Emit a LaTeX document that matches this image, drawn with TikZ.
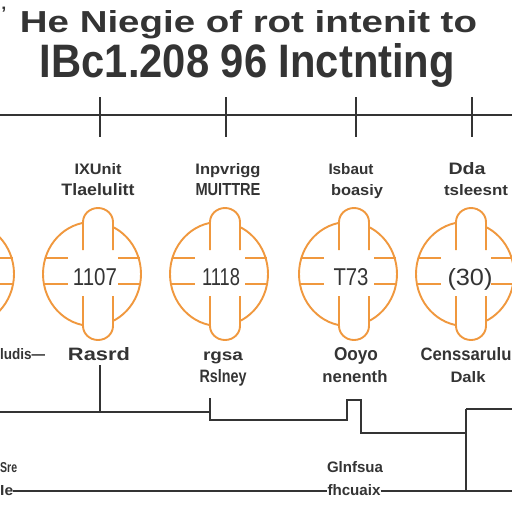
\documentclass[tikz,border=0pt]{standalone}
\usepackage{fontspec}
\setmainfont{Liberation Sans}
\usepackage{graphicx}
\definecolor{orng}{RGB}{240,152,62}
\definecolor{ink}{RGB}{52,52,52}
\newcommand\fitbox[3]{\resizebox{#1pt}{#2pt}{\vphantom{A}#3}}
\newcommand\orb[2]{%
  \begin{scope}[shift={(#1,#2)}]
    \draw[orbline] (0,0) ellipse [x radius=49pt, y radius=52pt];
    \fill[white] (-9,-52) arc[start angle=180,end angle=0,x radius=15pt,y radius=14pt]
      -- (21,52) arc[start angle=0,end angle=-180,x radius=15pt,y radius=14pt] -- cycle;
    \draw[orbline] (-9,-24) -- (-9,-52) arc[start angle=180,end angle=0,x radius=15pt,y radius=14pt] -- (21,-24);
    \draw[orbline] (-9,22) -- (-9,52) arc[start angle=180,end angle=360,x radius=15pt,y radius=14pt] -- (21,22);
    \draw[orbline] (-47.5,-16) -- (-24,-16) (-48.5,10) -- (-24,10);
    \draw[orbline] (26,-16) -- (47.5,-16) (26,10) -- (48.5,10);
  \end{scope}}
\begin{document}
\begin{tikzpicture}[x=1pt,y=-1pt,
  wire/.style={draw=ink, line width=1.6pt},
  orbline/.style={draw=orng, line width=1.9pt},
  lbl/.style={text=ink, inner sep=0pt, anchor=base, font=\bfseries},
  num/.style={text=ink, inner sep=0pt, anchor=base}]
\useasboundingbox[fill=white] (0,0) rectangle (512,512);

% title
\node[lbl] (apos) at (4,19) {\fontsize{18}{18}\selectfont '};
\node[lbl] (t1) at (248.5,32) {\fitbox{457}{22}{He Niegie of rot intenit to}};
\node[lbl] (t2) at (247.5,77) {\fitbox{415}{34}{IBc1.208 96 Inctnting}};

% top line with ticks
\coordinate (tl0) at (0,115);
\coordinate (tl1) at (512,115);
\draw[wire] (tl0) -- (tl1);
\foreach \x in {100,226,356,472} \draw[wire] (\x,97) -- (\x,137);

% orbs
\orb{-35}{274}
\orb{92}{274}
\orb{219}{274}
\orb{348}{274}
\orb{465}{274}

\node[num] (n1) at (95,285) {\fitbox{44}{17}{1107}};
\node[num] (n2) at (221,285) {\fitbox{38}{17}{1118}};
\node[num] (n3) at (351,285) {\fitbox{35}{17}{T73}};
\node[num] (n4) at (470,285) {\fitbox{45}{17}{(30)}};

% top labels
\node[lbl] (a1) at (98,174) {\fitbox{47}{11}{IXUnit}};
\node[lbl] (a2) at (98,195) {\fitbox{73}{12}{Tlaelulitt}};
\node[lbl] (b1) at (228,174) {\fitbox{65}{11}{Inpvrigg}};
\node[lbl] (b2) at (228,195) {\fitbox{65}{12}{MUITTRE}};
\node[lbl] (c1) at (351,174) {\fitbox{45}{11}{Isbaut}};
\node[lbl] (c2) at (357,195) {\fitbox{52}{11}{boasiy}};
\node[lbl] (d1) at (467,174) {\fitbox{37}{12}{Dda}};
\node[lbl] (d2) at (476,195) {\fitbox{64}{11}{tsleesnt}};

% bottom labels
\node[lbl, anchor=base west] (l0) at (0,359) {\fitbox{45}{11}{ludis—}};
\node[lbl] (e1) at (99,360) {\fitbox{62}{13}{Rasrd}};
\node[lbl] (f1) at (223,360) {\fitbox{40}{11}{rgsa}};
\node[lbl] (f2) at (223,382) {\fitbox{47}{13}{Rslney}};
\node[lbl] (g1) at (356,360) {\fitbox{44}{13}{Ooyo}};
\node[lbl] (g2) at (355,382) {\fitbox{65}{12}{nenenth}};
\node[lbl] (h1) at (466,360) {\fitbox{91}{13}{Censsarulu}};
\node[lbl] (h2) at (468,382) {\fitbox{35}{11}{Dalk}};

\node[lbl, anchor=base west] (s1) at (0,472) {\fitbox{17}{10}{Sre}};
\node[lbl, anchor=base west] (s2) at (0,495) {\fitbox{13}{10}{Ie}};
\node[lbl] (m1) at (355,472) {\fitbox{56}{11}{Glnfsua}};
\node[lbl] (m2) at (354,495) {\fitbox{53}{11}{fhcuaix}};

% connectors
\coordinate (p0) at (0,412);
\coordinate (p1) at (100,412);
\coordinate (p2) at (210,412);
\draw[wire] (p0) -- (p2);
\draw[wire] (100,365) -- (p1);
\draw[wire] (210,398) -- (210,420) -- (347,420) -- (347,400) -- (361,400) -- (361,433) -- (466,433);
\draw[wire] (466,409) -- (466,491);
\draw[wire] (466,409) -- (512,409);
\draw[wire] (s2.east |- 0,491) -- (m2.west |- 0,491);
\draw[wire] (m2.east |- 0,491) -- (512,491);
\end{tikzpicture}
\end{document}
